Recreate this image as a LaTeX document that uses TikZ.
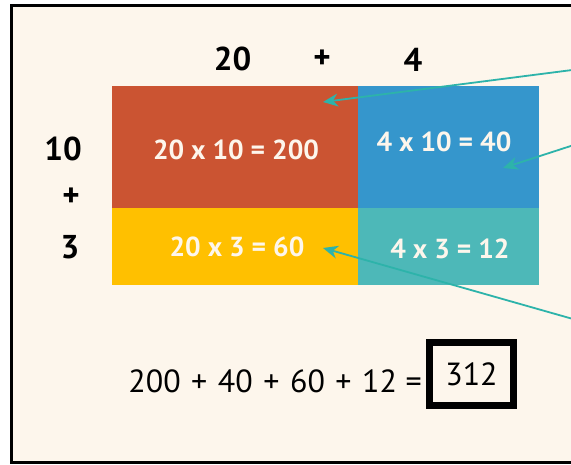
\documentclass[tikz,border=0pt]{standalone}
\usepackage{fontspec}
\setmainfont{PT Sans}
\usepackage{xcolor}
\usepackage{tikz}
\usetikzlibrary{arrows.meta, calc}

\definecolor{paper}{HTML}{FDF6EC}
\definecolor{brick}{HTML}{CB5432}
\definecolor{sky}{HTML}{3596CC}
\definecolor{amber}{HTML}{FFC000}
\definecolor{sea}{HTML}{4DB8B8}
\definecolor{arrowteal}{HTML}{2DB3AA}

\begin{document}
\begin{tikzpicture}[x=1pt, y=-1pt, >={Stealth[length=15pt, width=13pt]},
    factor/.style={font=\fontsize{33}{35}\selectfont\bfseries, inner sep=0pt},
    product/.style={font=\fontsize{27.5}{30}\selectfont\bfseries, text=paper, inner sep=0pt},
    sum/.style={font=\fontsize{32}{34}\selectfont, inner sep=0pt},
    pointer/.style={->, arrowteal, line width=1.8pt}]
    \clip (0,0) rectangle (571,465);
    \fill[white] (0,0) rectangle (571,465);
    \draw[line width=3pt, fill=paper] (11.5,5.5) rectangle (590,462.5);

    \fill[brick] (112,86) rectangle (358,208);
    \fill[sky] (358,86) rectangle (539,208);
    \fill[amber] (112,208) rectangle (358,285);
    \fill[sea] (358,208) rectangle (539,285);

    \node[factor] (twenty) at (232.5,59) {20};
    \node[factor] (plusA) at (322,59) {+};
    \node[factor] (four) at (413,60) {4};
    \node[factor] (ten) at (63,149) {10};
    \node[factor] (plusB) at (71,197) {+};
    \node[factor] (three) at (70,247) {3};

    \node[product] (p200) at (236,150) {20 x 10 = 200};
    \node[product] (p40) at (444,142) {4 x 10 = 40};
    \node[product] (p60) at (237,247) {20 x 3 = 60};
    \node[product] (p12) at (450,249) {4 x 3 = 12};

    \node[sum, anchor=east] (total) at (422,381)
        {200\hspace{2pt} + \hspace{2pt}40\hspace{2pt} + \hspace{2pt}60\hspace{2pt} + \hspace{2pt}12 =};
    \node[sum, draw, line width=7pt, minimum width=84pt, minimum height=63pt] (answer) at (471.5,374) {312};

    \coordinate (tipA) at (323,102);
    \coordinate (tipB) at (503,168);
    \coordinate (tipC) at (323,248);
    \coordinate (fromA) at (580,69);
    \coordinate (fromB) at (580,143);
    \coordinate (fromC) at (580,321);
    \draw[pointer] (fromA) -- (tipA);
    \draw[pointer] (fromB) -- (tipB);
    \draw[pointer] (fromC) -- (tipC);
\end{tikzpicture}
\end{document}
